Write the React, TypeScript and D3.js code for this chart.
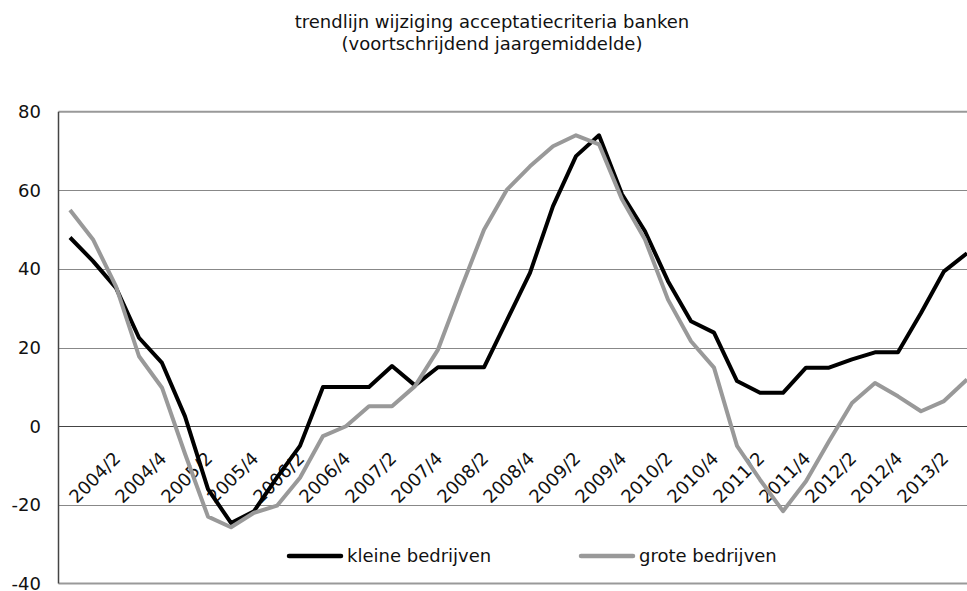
import React from 'react';
import * as d3 from 'd3';

const categories = [
  '2003/4',
  '2004/1', '2004/2', '2004/3', '2004/4',
  '2005/1', '2005/2', '2005/3', '2005/4',
  '2006/1', '2006/2', '2006/3', '2006/4',
  '2007/1', '2007/2', '2007/3', '2007/4',
  '2008/1', '2008/2', '2008/3', '2008/4',
  '2009/1', '2009/2', '2009/3', '2009/4',
  '2010/1', '2010/2', '2010/3', '2010/4',
  '2011/1', '2011/2', '2011/3', '2011/4',
  '2012/1', '2012/2', '2012/3', '2012/4',
  '2013/1', '2013/2', '2013/3',
];

const tickLabels = [
  '2004/2', '2004/4', '2005/2', '2005/4', '2006/2', '2006/4', '2007/2', '2007/4',
  '2008/2', '2008/4', '2009/2', '2009/4', '2010/2', '2010/4', '2011/2', '2011/4',
  '2012/2', '2012/4', '2013/2',
];

const kleine = [
  48, 42, 35.2, 22.5, 16.1, 2.5, -16, -24.6, -21.6, -13,
  -5, 10, 10, 10, 15.3, 10.4, 15, 15, 15, 27,
  39, 56, 68.7, 74, 59, 49.6, 36.9, 26.7, 23.8, 11.5,
  8.5, 8.5, 14.9, 14.9, 17, 18.8, 18.8, 28.8, 39.4, 44,
];

const grote = [
  55, 47.5, 35.6, 17.8, 9.8, -7, -23, -25.7, -22, -20.2,
  -13.1, -2.5, 0, 5.1, 5.1, 10.2, 19.5, 35, 50, 60.2,
  66.1, 71.2, 74, 71.7, 57.7, 47.5, 32.2, 21.6, 14.9, -5,
  -13.6, -21.6, -14, -3.8, 5.9, 11, 7.6, 3.8, 6.4, 11.9,
];

const yTicks = [-40, -20, 0, 20, 40, 60, 80];
const titleLines = ['trendlijn wijziging acceptatiecriteria banken', '(voortschrijdend jaargemiddelde)'];
const seriesNames = ['kleine bedrijven', 'grote bedrijven'];
const seriesColors = ['#000000', '#999999'];

const FONT = 'Verdana, "DejaVu Sans", sans-serif';

export default function App() {
  const W = 967;
  const H = 591;
  const left = 58.5;
  const top = 111.7;
  const bottom = 583.5;
  const step = 23;

  const x = d3
    .scaleBand<string>()
    .domain(categories)
    .range([left, left + step * categories.length])
    .padding(0);
  const cx = (c: string) => (x(c) as number) + x.bandwidth() / 2;
  const y = d3.scaleLinear().domain([-40, 80]).range([bottom, top]);
  const snap = (v: number) => Math.round(v) + 0.5;

  const line = d3
    .line<number>()
    .x((_, i) => cx(categories[i]))
    .y((d) => y(d));

  const series = [kleine, grote];
  const right = left + step * categories.length;

  return (
    <svg
      width={W}
      height={H}
      style={{ position: 'absolute', left: 0, top: 0, background: '#fff' }}
      fontFamily={FONT}
    >
      {titleLines.map((t, i) => (
        <text key={t} x={492} y={28 + i * 22} textAnchor="middle" fontSize={18} fill="#111">
          {t}
        </text>
      ))}

      {/* gridlines */}
      {yTicks
        .filter((v) => v !== 0 && v !== 80 && v !== -40)
        .map((v) => (
          <line
            key={v}
            x1={left}
            x2={right}
            y1={snap(y(v))}
            y2={snap(y(v))}
            stroke="#111"
            strokeWidth={1}
            strokeDasharray="1 1"
          />
        ))}
      {/* plot border */}
      <line x1={left} x2={right} y1={y(80)} y2={y(80)} stroke="#999" strokeWidth={2} />
      <line x1={left} x2={right} y1={y(-40)} y2={y(-40)} stroke="#999" strokeWidth={2} />
      {/* zero axis */}
      <line x1={left} x2={right} y1={snap(y(0))} y2={snap(y(0))} stroke="#444" strokeWidth={1.2} />
      {/* left axis */}
      <line x1={left} x2={left} y1={y(80)} y2={y(-40)} stroke="#444" strokeWidth={1.5} />

      {yTicks.map((v) => (
        <text key={v} x={41} y={y(v)} dy="0.36em" textAnchor="end" fontSize={18} fill="#111">
          {v}
        </text>
      ))}

      {tickLabels.map((c) => (
        <text
          key={c}
          transform={`translate(${cx(c) + 1},${455}) rotate(-45)`}
          dy="0.36em"
          textAnchor="end"
          fontSize={18}
          fill="#111"
        >
          {c}
        </text>
      ))}

      {series.map((s, i) => (
        <path
          key={i}
          d={line(s) as string}
          fill="none"
          stroke={seriesColors[i]}
          strokeWidth={4}
          strokeLinejoin="round"
        />
      ))}

      {seriesNames.map((n, i) => {
        const lx = i === 0 ? 289 : 581;
        return (
          <g key={n}>
            <line
              x1={lx}
              x2={lx + 52}
              y1={556}
              y2={556}
              stroke={seriesColors[i]}
              strokeWidth={4.5}
              strokeLinecap="round"
            />
            <text x={lx + 58} y={556} dy="0.36em" fontSize={18} fill="#111">
              {n}
            </text>
          </g>
        );
      })}
    </svg>
  );
}
